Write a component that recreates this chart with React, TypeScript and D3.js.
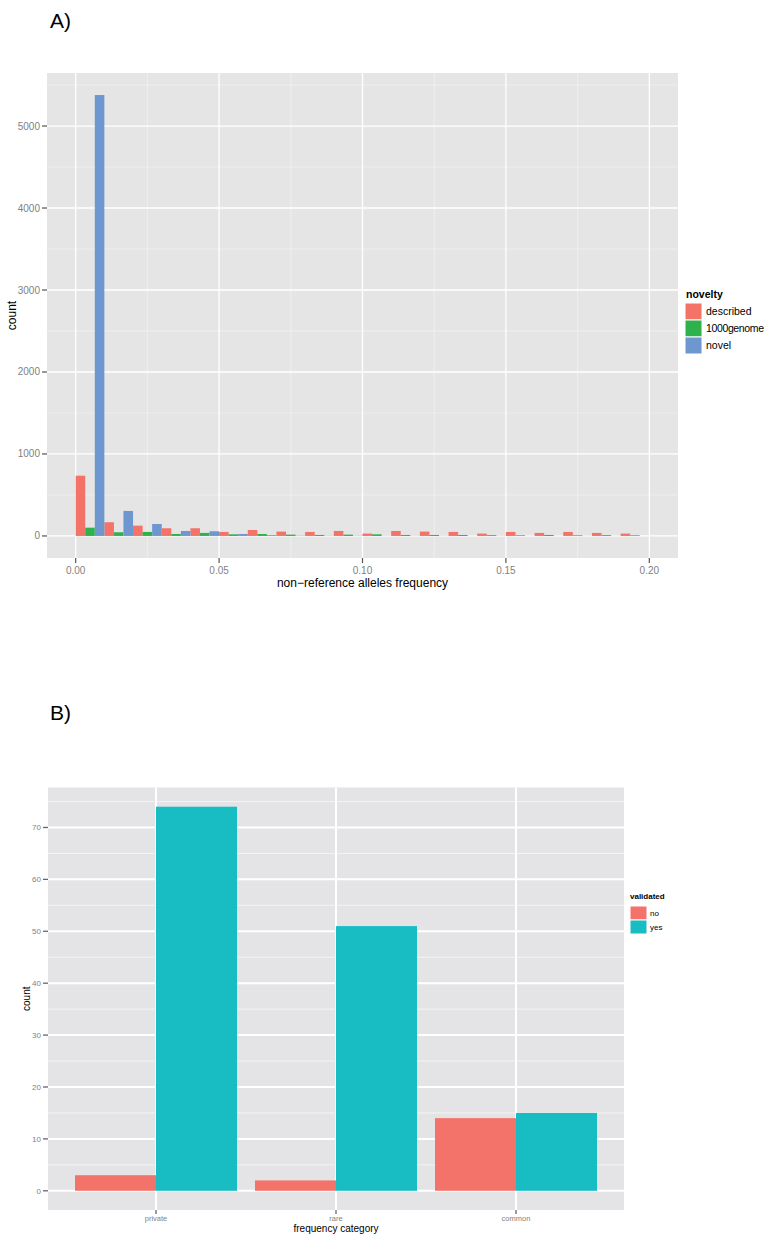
import React from "react";
import * as d3 from "d3";

// ---------- Panel A data ----------
const binStarts = [0.0, 0.01, 0.02, 0.03, 0.04, 0.05, 0.06, 0.07, 0.08, 0.09, 0.10, 0.11, 0.12, 0.13, 0.14, 0.15, 0.16, 0.17, 0.18, 0.19];
const describedCounts = [735, 167, 126, 94, 94, 49, 73, 53, 49, 61, 29, 61, 53, 49, 29, 49, 37, 49, 37, 29];
const genome1000Counts = [101, 45, 49, 24, 37, 20, 24, 16, 12, 16, 20, 12, 12, 12, 10, 8, 12, 8, 10, 8];
const novelCounts = [5378, 305, 146, 61, 57, 24, 10, 4, 3, 3, 2, 2, 2, 1, 2, 1, 1, 1, 1, 0];
const noveltyLevels = ["described", "1000genome", "novel"];
const noveltyColors = ["#F37369", "#2DB24C", "#6E96CF"];
const xTicksA = [0, 0.05, 0.1, 0.15, 0.2];
const xMinorA = [0.025, 0.075, 0.125, 0.175];
const yTicksA = [0, 1000, 2000, 3000, 4000, 5000];
const yMinorA = [500, 1500, 2500, 3500, 4500, 5500];
const binWidth = 0.01;

// ---------- Panel B data ----------
const freqCategories = ["private", "rare", "common"];
const validatedNo = [3, 2, 14];
const validatedYes = [74, 51, 15];
const validatedLevels = ["no", "yes"];
const validatedColors = ["#F3736A", "#18BCC3"];
const yTicksB = [0, 10, 20, 30, 40, 50, 60, 70];
const yMinorB = [5, 15, 25, 35, 45, 55, 65, 75];

const FONT = "'Liberation Sans', Arial, Helvetica, sans-serif";

function PanelA() {
  const left = 47, right = 678, top = 73, bottom = 558;
  const x = d3.scaleLinear().domain([-0.01, 0.21]).range([left, right]);
  const yMax = d3.max(novelCounts) as number;
  const pad = yMax * 0.05;
  const y = d3.scaleLinear().domain([-pad, yMax + pad]).range([bottom, top]);
  const series = [describedCounts, genome1000Counts, novelCounts];
  const sub = d3.scaleBand<number>().domain([0, 1, 2]).range([0, binWidth]).padding(0);

  return (
    <g>
      <text x={50} y={28} fontSize={21} fontFamily={FONT} fill="#000">A)</text>
      <rect x={left} y={top} width={right - left} height={bottom - top} fill="#E5E5E5" />
      {yMinorA.map((v) => (
        <line key={"ym" + v} x1={left} x2={right} y1={y(v)} y2={y(v)} stroke="#F2F2F2" strokeWidth={0.7} />
      ))}
      {xMinorA.map((v) => (
        <line key={"xm" + v} y1={top} y2={bottom} x1={x(v)} x2={x(v)} stroke="#F2F2F2" strokeWidth={0.7} />
      ))}
      {yTicksA.map((v) => (
        <line key={"yM" + v} x1={left} x2={right} y1={y(v)} y2={y(v)} stroke="#FFFFFF" strokeWidth={1.3} />
      ))}
      {xTicksA.map((v) => (
        <line key={"xM" + v} y1={top} y2={bottom} x1={x(v)} x2={x(v)} stroke="#FFFFFF" strokeWidth={1.3} />
      ))}
      {series.map((vals, si) =>
        vals.map((c, i) => {
          const x0 = x(binStarts[i] + (sub(si) as number));
          const x1 = x(binStarts[i] + (sub(si) as number) + sub.bandwidth());
          return (
            <rect key={si + "-" + i} x={x0} width={x1 - x0} y={y(c)} height={y(0) - y(c)} fill={noveltyColors[si]} />
          );
        })
      )}
      {yTicksA.map((v) => (
        <g key={"yt" + v}>
          <line x1={left - 5} x2={left} y1={y(v)} y2={y(v)} stroke="#555" strokeWidth={1.2} />
          <text x={left - 7} y={y(v)} dy="0.35em" textAnchor="end" fontSize={10} fontFamily={FONT} fill="#7F7F7F">{v}</text>
        </g>
      ))}
      {xTicksA.map((v) => (
        <g key={"xt" + v}>
          <line y1={bottom} y2={bottom + 5} x1={x(v)} x2={x(v)} stroke="#555" strokeWidth={1.2} />
          <text x={x(v)} y={bottom + 16} textAnchor="middle" fontSize={10} fontFamily={FONT} fill="#7F7F7F">{v.toFixed(2)}</text>
        </g>
      ))}
      <text x={(left + right) / 2} y={587} textAnchor="middle" fontSize={12} fontFamily={FONT} fill="#000">non−reference alleles frequency</text>
      <text transform={`translate(16,${(top + bottom) / 2}) rotate(-90)`} textAnchor="middle" fontSize={12} fontFamily={FONT} fill="#000">count</text>
      <text x={686} y={298} fontSize={10.5} fontWeight="bold" fontFamily={FONT} fill="#000">novelty</text>
      {noveltyLevels.map((lv, i) => (
        <g key={lv}>
          <rect x={685} y={303 + i * 17} width={17} height={17} fill={noveltyColors[i]} stroke="#FFFFFF" strokeWidth={1} />
          <text x={706} y={303 + i * 17 + 8.5} dy="0.35em" fontSize={10.5} fontFamily={FONT} fill="#000" textLength={lv === "1000genome" ? 58 : undefined}>{lv}</text>
        </g>
      ))}
    </g>
  );
}

function PanelB() {
  const left = 48, right = 624, top = 787.5, bottom = 1210;
  const yMax = d3.max(validatedYes.concat(validatedNo)) as number;
  const pad = yMax * 0.05;
  const y = d3.scaleLinear().domain([-pad, yMax + pad]).range([bottom, top]);
  const x = d3.scaleBand<string>().domain(freqCategories).range([left, right]).paddingInner(0.1).paddingOuter(0.15);
  const sub = d3.scaleBand<string>().domain(validatedLevels).range([0, x.bandwidth()]).padding(0);
  const series = [validatedNo, validatedYes];

  return (
    <g>
      <text x={50} y={720} fontSize={21} fontFamily={FONT} fill="#000">B)</text>
      <rect x={left} y={top} width={right - left} height={bottom - top} fill="#E4E4E6" />
      {yMinorB.map((v) => (
        <line key={"ym" + v} x1={left} x2={right} y1={y(v)} y2={y(v)} stroke="#F4F4F5" strokeWidth={1} />
      ))}
      {yTicksB.map((v) => (
        <line key={"yM" + v} x1={left} x2={right} y1={y(v)} y2={y(v)} stroke="#FFFFFF" strokeWidth={2} />
      ))}
      {freqCategories.map((c) => {
        const cx = (x(c) as number) + x.bandwidth() / 2;
        return <line key={"xM" + c} y1={top} y2={bottom} x1={cx} x2={cx} stroke="#FFFFFF" strokeWidth={2} />;
      })}
      {series.map((vals, si) =>
        vals.map((v, i) => {
          const bx = (x(freqCategories[i]) as number) + (sub(validatedLevels[si]) as number);
          return (
            <rect key={si + "-" + i} x={bx} width={sub.bandwidth()} y={y(v)} height={y(0) - y(v)} fill={validatedColors[si]} />
          );
        })
      )}
      {yTicksB.map((v) => (
        <g key={"yt" + v}>
          <line x1={left - 5} x2={left} y1={y(v)} y2={y(v)} stroke="#666" strokeWidth={1.3} />
          <text x={left - 7} y={y(v)} dy="0.35em" textAnchor="end" fontSize={8} fontFamily={FONT} fill="#7F7F7F">{v}</text>
        </g>
      ))}
      {freqCategories.map((c) => {
        const cx = (x(c) as number) + x.bandwidth() / 2;
        return (
          <g key={"xt" + c}>
            <line y1={bottom} y2={bottom + 4} x1={cx} x2={cx} stroke="#666" strokeWidth={1.3} />
            <text x={cx} y={bottom + 10.5} textAnchor="middle" fontSize={7.5} fontFamily={FONT} fill="#7F7F7F">{c}</text>
          </g>
        );
      })}
      <text x={(left + right) / 2} y={1232} textAnchor="middle" fontSize={10} fontFamily={FONT} fill="#000">frequency category</text>
      <text transform={`translate(30,${(top + bottom) / 2}) rotate(-90)`} textAnchor="middle" fontSize={10} fontFamily={FONT} fill="#000">count</text>
      <text x={630} y={899} fontSize={8} fontWeight="bold" fontFamily={FONT} fill="#000">validated</text>
      {validatedLevels.map((lv, i) => (
        <g key={lv}>
          <rect x={630} y={906 + i * 14} width={17} height={14} fill={validatedColors[i]} stroke="#FFFFFF" strokeWidth={1} />
          <text x={650} y={906 + i * 14 + 7} dy="0.35em" fontSize={8} fontFamily={FONT} fill="#000">{lv}</text>
        </g>
      ))}
    </g>
  );
}

export default function App() {
  return (
    <svg width={768} height={1239} style={{ display: "block", position: "absolute", left: 0, top: 0, background: "#fff" }}>
      <PanelA />
      <PanelB />
    </svg>
  );
}
